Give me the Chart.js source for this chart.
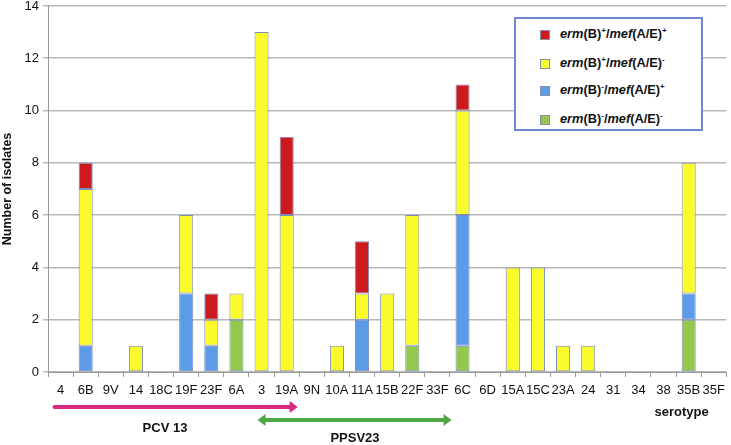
<!DOCTYPE html>
<html>
<head>
<meta charset="utf-8">
<script src="https://cdn.jsdelivr.net/npm/chart.js@4"></script>
<style>
body{margin:0;background:#fff;}
#wrap{position:relative;width:731px;height:445px;}
#legend{position:absolute;left:514px;top:17px;width:185px;height:110px;border:2px solid #7088d4;background:#fff;
 font-family:"Liberation Sans",Arial,sans-serif;font-weight:bold;font-size:12.8px;color:#111;}
.item{position:absolute;left:24px;height:14px;line-height:14px;white-space:nowrap;}
.sw{position:absolute;left:0;top:3px;width:8px;height:8px;border:1px solid #8a8fa8;}
.txt{position:absolute;left:20px;top:0;}
sup{font-size:8px;line-height:0;vertical-align:5px;}
</style>
</head>
<body>
<div id="wrap">
<canvas id="myChart" width="731" height="445"></canvas>
<div id="legend"></div>
</div>
<script>
const categories = ['4','6B','9V','14','18C','19F','23F','6A','3','19A','9N','10A','11A','15B','22F','33F','6C','6D','15A','15C','23A','24','31','34','38','35B','35F'];
const negNeg = [0,0,0,0,0,0,0,2,0,0,0,0,0,0,1,0,1,0,0,0,0,0,0,0,0,2,0];
const negPos = [0,1,0,0,0,3,1,0,0,0,0,0,2,0,0,0,5,0,0,0,0,0,0,0,0,1,0];
const posNeg = [0,6,0,1,0,3,1,1,13,6,0,1,1,3,5,0,4,0,4,4,1,1,0,0,0,5,0];
const posPos = [0,1,0,0,0,0,1,0,0,3,0,0,2,0,0,0,1,0,0,0,0,0,0,0,0,0,0];
const yTicks = [0,2,4,6,8,10,12,14];

const seriesNames = [
    ['+','+'],
    ['+','-'],
    ['-','+'],
    ['-','-']
];
const seriesColors = ['#cc1a1f','#fbfb2c','#5b9be8','#93c84a'];
const legendTops = [8,37,64,93];

function getLegend(){
    const box = document.getElementById('legend');
    seriesNames.forEach((s, i) => {
        var div = document.createElement('div');
        div.className = 'item';
        div.style.top = legendTops[i] + 'px';
        div.innerHTML = `<span class="sw" style="background:${seriesColors[i]}"></span><span class="txt"><i>erm</i>(B)<sup>${s[0]}</sup>/<i>mef</i>(A/E)<sup>${s[1]}</sup></span>`;
        box.appendChild(div);
    });
}

const arrowPlugin = {
    id: 'arrows',
    afterDraw(chart){
        const ctx = chart.ctx;
        const x = chart.scales.x;
        ctx.save();
        // PCV 13
        let x1 = x.getPixelForValue(0) - 6, x2 = x.getPixelForValue(9) + 11;
        ctx.strokeStyle = '#d6297f'; ctx.fillStyle = '#d6297f'; ctx.lineWidth = 4; ctx.lineCap = 'round';
        ctx.beginPath(); ctx.moveTo(x1, 407); ctx.lineTo(x2 - 6, 407); ctx.stroke();
        ctx.beginPath(); ctx.moveTo(x2, 407); ctx.lineTo(x2 - 8, 401); ctx.lineTo(x2 - 8, 413); ctx.closePath(); ctx.fill();
        // PPSV23
        let g1 = x.getPixelForValue(8) - 4, g2 = x.getPixelForValue(16) - 11;
        ctx.strokeStyle = '#4ea644'; ctx.fillStyle = '#4ea644';
        ctx.beginPath(); ctx.moveTo(g1 + 6, 420); ctx.lineTo(g2 - 6, 420); ctx.stroke();
        ctx.beginPath(); ctx.moveTo(g1, 420); ctx.lineTo(g1 + 8, 414); ctx.lineTo(g1 + 8, 426); ctx.closePath(); ctx.fill();
        ctx.beginPath(); ctx.moveTo(g2, 420); ctx.lineTo(g2 - 8, 414); ctx.lineTo(g2 - 8, 426); ctx.closePath(); ctx.fill();
        ctx.fillStyle = '#111';
        ctx.font = 'bold 13px "Liberation Sans", Arial, sans-serif';
        ctx.textAlign = 'center'; ctx.textBaseline = 'middle';
        ctx.fillText('PCV 13', 165, 428);
        ctx.fillText('PPSV23', 355, 438);
        ctx.fillText('serotype', x.getPixelForValue(25) - 7, 412);
        ctx.restore();
    }
};

function getChart(){
    const ctx = document.getElementById('myChart');
    const order = [negNeg, negPos, posNeg, posPos];
    const colorIdx = [3, 2, 1, 0];
    new Chart(ctx, {
        type: 'bar',
        data: {
            labels: categories,
            datasets: order.map((arr, i) => ({
                label: 'erm(B)' + seriesNames[colorIdx[i]][0] + '/mef(A/E)' + seriesNames[colorIdx[i]][1],
                data: arr.map(v => v || null),
                backgroundColor: seriesColors[colorIdx[i]],
                borderColor: '#7b8cbf',
                borderWidth: 1,
                borderSkipped: false,
                barPercentage: 0.56,
                categoryPercentage: 1
            }))
        },
        options: {
            responsive: false,
            animation: false,
            layout: { padding: { top: 5, right: 0, bottom: 0, left: 0 } },
            plugins: { legend: { display: false }, tooltip: { enabled: false } },
            scales: {
                x: {
                    stacked: true,
                    afterFit: (s) => { s.height = 73; },
                    grid: { drawOnChartArea: false, offset: true, tickLength: 5, color: '#999' },
                    border: { color: '#999' },
                    ticks: { autoSkip: false, maxRotation: 0, padding: 6, color: '#111',
                        font: { family: '"Liberation Sans", Arial, sans-serif', size: 13 } }
                },
                y: {
                    stacked: true,
                    min: 0, max: 14,
                    afterFit: (s) => { s.width = 48; },
                    afterBuildTicks: (s) => { s.ticks = yTicks.map(v => ({ value: v })); },
                    grid: { color: '#b8b8b8', lineWidth: 1.5, tickLength: 5 },
                    border: { color: '#999' },
                    ticks: { padding: 4, color: '#111',
                        font: { family: '"Liberation Sans", Arial, sans-serif', size: 13, lineHeight: 0.3 } },
                    title: { display: true, text: 'Number of isolates', color: '#111', padding: 0,
                        font: { family: '"Liberation Sans", Arial, sans-serif', size: 12.5, weight: 'bold' } }
                }
            }
        },
        plugins: [arrowPlugin]
    });
}

document.addEventListener('DOMContentLoaded', (event) => {
    getLegend();
    getChart();
});
</script>
</body>
</html>
